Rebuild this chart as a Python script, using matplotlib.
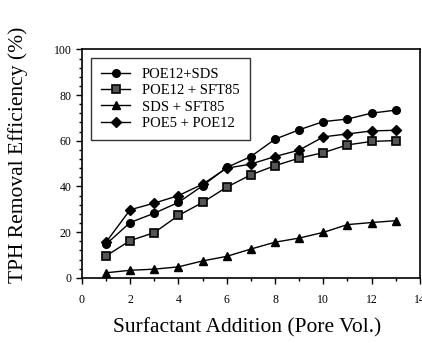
import matplotlib
matplotlib.use("Agg")
import matplotlib.pyplot as plt
from matplotlib.ticker import MultipleLocator

plt.rcParams['font.family'] = ['Liberation Serif', 'DejaVu Serif']

pore_vol = [1, 2, 3, 4, 5, 6, 7, 8, 9, 10, 11, 12, 13]
poe12_sds = [14.7, 24.2, 28.3, 33.0, 40.3, 48.3, 53.1, 60.7, 64.8, 68.4, 69.5, 72.1, 73.4]
poe12_sft85 = [9.6, 16.3, 19.8, 27.3, 33.0, 39.7, 45.1, 49.1, 52.4, 54.8, 58.2, 59.7, 60.1]
sds_sft85 = [2.2, 3.3, 3.8, 4.8, 7.4, 9.4, 12.6, 15.6, 17.4, 19.9, 23.3, 24.2, 25.0]
poe5_poe12 = [15.6, 29.8, 32.7, 36.0, 41.0, 48.0, 49.8, 53.1, 55.9, 61.7, 63.0, 64.3, 64.6]

fig = plt.figure(figsize=(4.22, 3.43), dpi=100)
ax = fig.add_axes([0.194, 0.19, 0.801, 0.666])

ax.plot(pore_vol, poe12_sds, '-o', color='black', lw=1, ms=5.5,
        mfc='black', mec='black', label='POE12+SDS')
ax.plot(pore_vol, poe12_sft85, '-s', color='black', lw=1, ms=5.5,
        mfc='#555555', mec='black', mew=1.2, label='POE12 + SFT85')
ax.plot(pore_vol, sds_sft85, '-^', color='black', lw=1, ms=5.5,
        mfc='black', mec='black', label='SDS + SFT85')
ax.plot(pore_vol, poe5_poe12, '-D', color='black', lw=1, ms=5,
        mfc='black', mec='black', label='POE5 + POE12')

ax.set_xlim(0, 14)
ax.set_ylim(0, 100)
ax.xaxis.set_major_locator(MultipleLocator(2))
ax.xaxis.set_minor_locator(MultipleLocator(1))
ax.yaxis.set_major_locator(MultipleLocator(20))
ax.yaxis.set_minor_locator(MultipleLocator(4))
ax.tick_params(axis='both', which='both', direction='out', labelsize=8.5, width=1)
ax.tick_params(axis='both', which='major', length=4)
ax.tick_params(axis='both', which='minor', length=2.5)
ax.tick_params(axis='x', pad=8)
for s in ax.spines.values():
    s.set_linewidth(1.2)

ax.set_xlabel('Surfactant Addition (Pore Vol.)', fontsize=15.5)
ax.xaxis.set_label_coords(0.49, -0.175)
ax.set_ylabel('TPH Removal Efficiency (%)', fontsize=15.5)
ax.yaxis.set_label_coords(-0.16, 0.54)

leg = ax.legend(loc='upper left', bbox_to_anchor=(0.027, 0.963), fontsize=10.5,
                frameon=True, fancybox=False, edgecolor='black', borderaxespad=0,
                handlelength=2.0, borderpad=0.7, labelspacing=0.2)
leg.get_frame().set_linewidth(1)

fig.savefig('out.png', dpi=100)
